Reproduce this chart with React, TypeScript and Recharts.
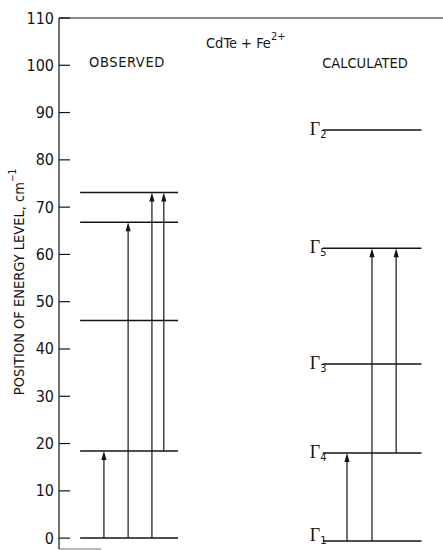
import { ComposedChart, XAxis, YAxis, ReferenceLine } from 'recharts';

// energy levels, cm^-1
const observedLevels = [0, 18.4, 46.0, 66.8, 73.1];
const calculatedNames = ['1', '4', '3', '5', '2'];
const calculatedLevels = [-0.6, 18.0, 36.8, 61.3, 86.3];

// transitions as [from, to]
const observedTransitions: [number, number][] = [
  [0, 18.4],
  [0, 66.8],
  [0, 73.1],
  [18.4, 73.1],
];
const calculatedTransitions: [number, number][] = [
  [-0.6, 18.0],
  [-0.6, 61.3],
  [18.0, 61.3],
];

const yTicks = [0, 10, 20, 30, 40, 50, 60, 70, 80, 90, 100, 110];

// horizontal layout of the two diagrams (arbitrary 0-100 units)
const OBS_SPAN = [5.5, 31.0];
const CALC_SPAN = [68.7, 94.4];
const OBS_ARROW_X = [11.7, 18.0, 24.2, 27.3];
const CALC_ARROW_X = [75.0, 81.5, 87.8];

const INK = '#151515';
const FONT = '"DejaVu Sans Condensed", "Liberation Sans Narrow", sans-serif';

const YTick = ({ x, y, payload }: any) => (
  <g>
    <line x1={x} x2={x + 11} y1={y} y2={y} stroke={INK} strokeWidth={1.2} />
    <text x={x - 5} y={y} textAnchor="end" dominantBaseline="central" fontFamily={FONT} fontSize={16} fill={INK}>
      {payload.value}
    </text>
  </g>
);

const Arrow = (props: any) => {
  const { x1, y1, x2, y2 } = props;
  const top = Math.min(y1, y2);
  const bottom = Math.max(y1, y2);
  return (
    <g>
      <line x1={x1} x2={x2} y1={bottom} y2={top + 6} stroke={INK} strokeWidth={1.2} />
      <polygon points={`${x1},${top} ${x1 - 2.6},${top + 9} ${x1 + 2.6},${top + 9}`} fill={INK} />
    </g>
  );
};

const Level = (props: any) => {
  const { x1, y1, x2, y2 } = props;
  return <line x1={x1} x2={x2} y1={y1} y2={y2} stroke={INK} strokeWidth={1.5} />;
};

const calcLevel = (name: string) => (props: any) => {
  const { x1, y1, x2, y2 } = props;
  // keep the lowest label inside the picture
  const base = Math.min(y1 + 5, 541);
  return (
    <g>
      <line x1={x1} x2={x2} y1={y1} y2={y2} stroke={INK} strokeWidth={1.5} />
      <text x={x1 - 13} y={base} fontFamily='"Liberation Serif", serif' fontSize={18} fill={INK}>
        Γ
        <tspan fontSize={11} dy={3} fontFamily={FONT}>
          {name}
        </tspan>
      </text>
    </g>
  );
};

export default function App() {
  return (
    <div style={{ position: 'absolute', left: 0, top: 0, width: 443, height: 550, background: '#fff' }}>
      <ComposedChart width={443} height={550} data={[]} margin={{ top: 18, right: 0, bottom: 1, left: 0 }}>
        <XAxis type="number" dataKey="x" domain={[0, 100]} hide allowDataOverflow />
        <YAxis
          type="number"
          domain={[-2.3, 110]}
          ticks={yTicks}
          interval={0}
          width={59}
          tickSize={0}
          tickMargin={0}
          tickLine={false}
          axisLine={{ stroke: INK, strokeWidth: 1.2 }}
          tick={<YTick />}
          allowDataOverflow
        />
        <ReferenceLine y={110} stroke={INK} strokeWidth={1.2} />
        <ReferenceLine
          segment={[{ x: 0, y: -2.3 }, { x: 11, y: -2.3 }]}
          stroke="#777"
          strokeWidth={1}
          ifOverflow="visible"
        />
        {observedLevels.map((v) => (
          <ReferenceLine
            key={`o${v}`}
            segment={[{ x: OBS_SPAN[0], y: v }, { x: OBS_SPAN[1], y: v }]}
            shape={Level}
          />
        ))}
        {calculatedLevels.map((v, i) => (
          <ReferenceLine
            key={`c${v}`}
            segment={[{ x: CALC_SPAN[0], y: v }, { x: CALC_SPAN[1], y: v }]}
            shape={calcLevel(calculatedNames[i])}
          />
        ))}
        {observedTransitions.map(([a, b], i) => (
          <ReferenceLine
            key={`ot${i}`}
            segment={[{ x: OBS_ARROW_X[i], y: a }, { x: OBS_ARROW_X[i], y: b }]}
            shape={Arrow}
          />
        ))}
        {calculatedTransitions.map(([a, b], i) => (
          <ReferenceLine
            key={`ct${i}`}
            segment={[{ x: CALC_ARROW_X[i], y: a }, { x: CALC_ARROW_X[i], y: b }]}
            shape={Arrow}
          />
        ))}
        <text x={127} y={62} textAnchor="middle" dominantBaseline="central" fontFamily={FONT} fontSize={14.5} fill={INK} letterSpacing={0.6}>
          OBSERVED
        </text>
        <text x={365} y={63} textAnchor="middle" dominantBaseline="central" fontFamily={FONT} fontSize={14.5} fill={INK}>
          CALCULATED
        </text>
        <text x={206} y={48} fontFamily={FONT} fontSize={14.5} fill={INK}>
          CdTe + Fe
          <tspan fontSize={11} dy={-8}>2+</tspan>
        </text>
        <text
          x={0}
          y={0}
          transform="translate(19, 282) rotate(-90)"
          textAnchor="middle"
          dominantBaseline="central"
          fontFamily={FONT}
          fontSize={14.5}
          fill={INK}
        >
          POSITION OF ENERGY LEVEL, cm
          <tspan fontSize={10} dy={-7}>−1</tspan>
        </text>
      </ComposedChart>
    </div>
  );
}
